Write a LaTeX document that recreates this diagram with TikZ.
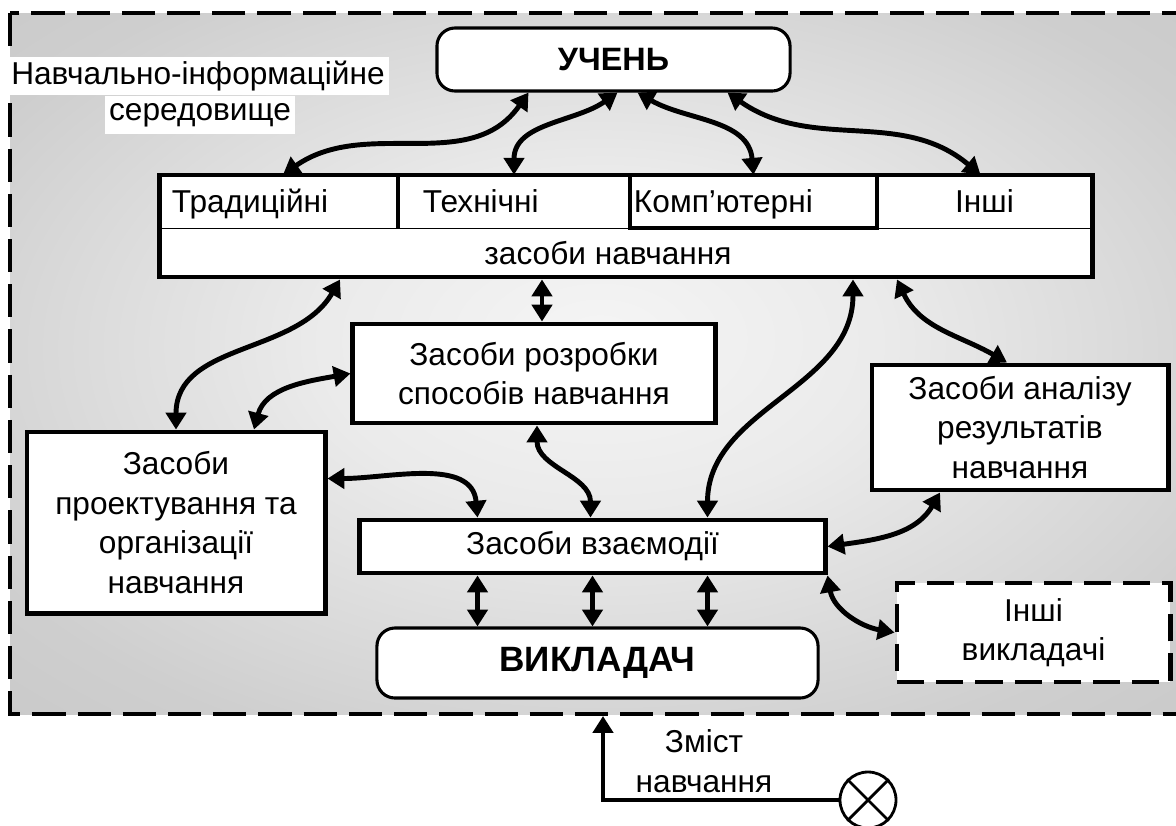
\documentclass[tikz,border=0pt]{standalone}
\usepackage{fontspec}
\setmainfont{Liberation Sans}
\usetikzlibrary{arrows.meta,calc}
\pgfdeclareradialshading{seredshade}{\pgfpoint{0bp}{2bp}}{color(0bp)=(white!96!black); color(12bp)=(black!8); color(30bp)=(black!19); color(50bp)=(black!25)}

\begin{document}
\begin{tikzpicture}[x=0.025cm, y=0.025cm,
    every node/.append style={font=\fontsize{22.5}{28}\selectfont, align=center, inner sep=0pt},
    box/.style={draw, line width=3.5pt, fill=white},
    person/.style={draw, line width=2.2pt, fill=white, rounded corners=0.45cm},
    cell/.style={minimum height=1.325cm, text height=20pt, text depth=4pt},
    link/.style={line width=3.5pt, {Triangle[length=0.42cm,width=0.5cm]}-{Triangle[length=0.42cm,width=0.5cm]}},
    feed/.style={line width=3.5pt, -{Triangle[length=0.42cm,width=0.5cm]}}]
  \useasboundingbox (0,0) rectangle (1176,-825);
  % середовище
  \draw[line width=3.5pt, dash pattern=on 0.83cm off 0.3cm, shading=seredshade]
    (10,-13) rectangle (1190,-714);
  \node[fill=white, inner xsep=3pt, minimum height=0.95cm] (env1) at (198,-76) {Навчально-інформаційне};
  \node[fill=white, inner xsep=3pt, minimum height=0.95cm] (env2) at (200,-115) {середовище};
  % учень
  \node[person, minimum width=8.825cm, minimum height=1.575cm,
    font=\fontsize{23}{28}\selectfont\bfseries] (uchen) at (613.5,-59.5) {УЧЕНЬ};
  % засоби навчання
  \node[box, minimum width=23.3cm, minimum height=2.55cm] (zasoby) at (626,-226) {};
  \node (zn) at (608,-253) {засоби навчання};
  \node[cell, text width=5.35cm, inner xsep=0.3cm, align=left] (trad) at (279,-201.5) {Традиційні};
  \node[cell, text width=4.55cm, inner xsep=0.625cm, align=left] (tekh) at (514,-201.5) {Технічні};
  \node[cell, text width=5.975cm, inner xsep=0.1cm, align=left] (komp) at (753.5,-201.5) {Комп’ютерні};
  \node[cell, minimum width=5.375cm] (inshi) at (984.5,-201.5) {Інші};
  \draw[line width=0.8pt] (trad.south west) -- (inshi.south east);
  \draw[line width=3pt] (trad.north east) -- (trad.south east);
  \draw[line width=3pt] (komp.north west) rectangle (komp.south east);
  % інші засоби
  \node[box, minimum width=9.05cm, minimum height=2.475cm] (rozrob) at (534,-373.5)
    {Засоби розробки\\способів навчання};
  \node[box, minimum width=7.45cm, minimum height=4.525cm] (proekt) at (176,-522.5)
    {Засоби\\проектування та\\організації\\навчання};
  \node[box, minimum width=7.4cm, minimum height=3.125cm] (analiz) at (1020,-427.5)
    {Засоби аналізу\\результатів\\навчання};
  \node[box, minimum width=11.625cm, minimum height=1.325cm] (vzaem) at (592.5,-546.5) {Засоби взаємодії};
  % викладач
  \node[person, minimum width=11.025cm, minimum height=1.75cm,
    font=\fontsize{25}{28}\selectfont\bfseries] (vikl) at (597.5,-663) {ВИКЛАДАЧ};
  \node[box, dash pattern=on 0.68cm off 0.3cm, minimum width=6.825cm, minimum height=2.475cm] (inshiv)
    at (1033.5,-632.5) {Інші\\викладачі};
  % зміст
  \node[draw, circle, line width=2pt, minimum size=1.4cm] (circ) at (868,-800) {};
  \draw[line width=2pt] (circ.45) -- (circ.225) (circ.135) -- (circ.315);
  \coordinate (entry) at (603,-716);
  \node (zmist) at (704,-761) {Зміст\\навчання};
  % зв'язки
  \draw[link] ($(trad.north)+(4,0)$) to[out=35, in=235] ($(uchen.south)+(-85,0)$);
  \draw[link] (tekh.north) to[out=90, in=215] ($(uchen.south)+(4,0)$);
  \draw[link] ($(uchen.south)+(24,0)$) to[out=-30, in=95] (komp.north);
  \draw[link] ($(uchen.south)+(114,0)$) to[out=-35, in=140] ($(inshi.north)+(-4,0)$);
  \draw[link] (proekt.north) to[out=90, in=240] ($(zasoby.south)+(-286,0)$);
  \draw[link] ($(proekt.north)+(78,0)$) to[out=75, in=190] (rozrob.west);
  \draw[link] ($(rozrob.north)+(8,0)$) -- ($(zasoby.south)+(-84,0)$);
  \draw[link] ($(rozrob.south)+(3,0)$) to[out=-90, in=90] ($(vzaem.north)+(-2,0)$);
  \draw[link] ($(proekt.east)+(0,44)$) to[out=0, in=95] ($(vzaem.north)+(-115,0)$);
  \draw[link] ($(vzaem.north)+(115,0)$) to[out=90, in=-90] ($(zasoby.south)+(227,0)$);
  \draw[link] ($(zasoby.south)+(271,0)$) to[out=-65, in=150] ($(analiz.north)+(-13,0)$);
  \draw[link] ($(analiz.south)+(-80,0)$) to[out=240, in=8] (vzaem.east);
  \draw[link] (vzaem.south east) to[out=-80, in=170] (inshiv.west);
  \foreach \x in {-115,0,115}
    \draw[link] ($(vzaem.south)+(\x,0)$) -- ($(vikl.north)+(\x-5,0)$);
  \draw[feed] (circ.west) -| (entry);
\end{tikzpicture}
\end{document}
